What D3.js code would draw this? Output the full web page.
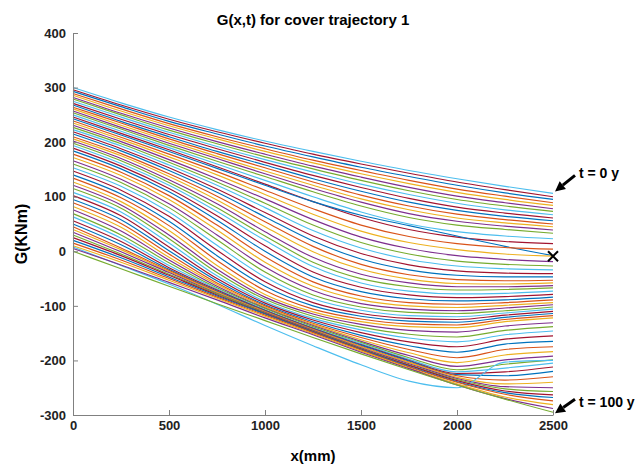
<!DOCTYPE html>
<html lang="en">
<head>
<meta charset="UTF-8">
<title>G(x,t) for cover trajectory 1</title>
<script src="https://d3js.org/d3.v7.min.js"></script>
<style>
  body { margin: 0; background: #fff; }
  svg { display: block; font-family: "Liberation Sans", Arial, sans-serif; }
</style>
</head>
<body>
<svg width="641" height="469"></svg>
<script>
// sample positions along the cover (mm)
const xs = [0, 250, 500, 750, 1000, 1250, 1500, 1750, 2000, 2250, 2500];
const xTicks = [0, 500, 1000, 1500, 2000, 2500];
const yTicks = [-300, -200, -100, 0, 100, 200, 300, 400];

// upper curves (t small), concave decline
const upperCurves = [
  [300,272,246,223,202,183,165,148,133,119,106],
  [296,268,242,219,198,178,160,143,127,113,100],
  [293,265,238,215,193,173,154,137,121,107,95],
  [289,261,234,210,188,167,148,130,114,101,89],
  [286,257,230,206,183,162,142,124,108,95,84],
  [282,253,226,201,178,156,136,117,101,89,78],
  [279,250,222,197,173,151,130,111,95,83,73],
  [275,246,218,192,168,145,123,104,88,76,67],
  [271,242,214,188,163,139,117,97,81,70,61],
  [268,238,210,183,158,133,110,90,75,64,56],
  [264,235,206,179,153,127,103,83,68,58,50],
  [261,231,202,174,147,121,96,76,61,52,45],
  [257,227,198,170,142,115,90,69,55,46,39],
  [254,224,194,165,137,109,83,62,48,40,33]
];

// curves dropping in the middle and flattening out
const middleCurves = [
  [250,220,190,160,130,100,72,50,36,28,23],
  [246,216,186,155,123,91,62,40,26,18,14],
  [243,213,183,152,121,91,66,47,28,9,-8],
  [239,209,178,146,112,78,48,27,14,7,4],
  [235,205,173,140,104,68,37,16,3,-5,-9],
  [231,201,168,133,96,58,26,5,-8,-15,-19],
  [227,197,163,127,88,48,16,-5,-18,-24,-27],
  [223,193,158,121,80,38,6,-15,-27,-32,-34],
  [219,188,153,114,71,28,-4,-25,-36,-40,-41],
  [215,184,148,108,63,19,-14,-34,-44,-47,-47],
  [210,179,142,101,54,9,-24,-43,-52,-54,-53],
  [206,175,137,94,45,-1,-33,-51,-59,-60,-58],
  [202,170,131,87,36,-11,-42,-58,-65,-65,-63],
  [198,166,126,80,28,-20,-50,-65,-71,-70,-67]
];

// deeper S-curves with a trough and a rise at the end
const deepCurves = [
  [194,161,121,73,20,-28,-58,-73,-78,-77,-73],
  [189,156,115,65,10,-38,-66,-80,-85,-83,-79],
  [184,151,109,57,0,-47,-74,-87,-91,-89,-84],
  [178,145,102,48,-10,-56,-82,-94,-97,-94,-89],
  [172,139,95,39,-20,-64,-89,-100,-103,-99,-94],
  [166,132,87,30,-29,-72,-96,-106,-109,-104,-98],
  [160,126,80,21,-38,-80,-102,-112,-114,-109,-102],
  [153,119,72,11,-47,-87,-108,-118,-120,-113,-106],
  [147,112,64,2,-56,-94,-114,-123,-125,-117,-110],
  [140,105,55,-8,-64,-100,-119,-128,-130,-121,-114],
  [134,98,47,-17,-72,-106,-124,-133,-135,-125,-118],
  [127,91,38,-26,-79,-111,-129,-138,-140,-129,-122]
];

// curves joining the lower band, lifting out near the end
const joiningCurves = [
  [121,85,30,-33,-84,-115,-134,-145,-148,-137,-131],
  [115,79,23,-39,-88,-119,-139,-152,-157,-145,-138],
  [108,72,15,-45,-92,-123,-144,-159,-166,-153,-146],
  [102,65,8,-50,-95,-126,-149,-166,-175,-161,-155],
  [95,58,1,-54,-98,-129,-154,-173,-185,-170,-165],
  [89,51,-5,-58,-100,-132,-158,-180,-195,-180,-175],
  [82,44,-11,-61,-102,-134,-162,-186,-204,-190,-184],
  [76,37,-16,-64,-104,-136,-165,-191,-211,-199,-192],
  [69,30,-21,-67,-105,-138,-167,-195,-217,-207,-199],
  [63,24,-26,-69,-107,-140,-169,-198,-221,-214,-205],
  [56,18,-30,-71,-108,-141,-171,-200,-224,-221,-212],
  [50,12,-33,-73,-109,-142,-172,-201,-226,-228,-220]
];

// lower band (t close to 100 y)
const bandCurves = [
  [45,6,-35,-74,-110,-143,-174,-203,-228,-236,-230],
  [40,3,-37,-75,-111,-144,-175,-204,-231,-243,-240],
  [35,-1,-39,-77,-112,-145,-177,-206,-233,-248,-250],
  [30,-5,-42,-78,-113,-146,-178,-208,-235,-252,-257],
  [8,-26,-60,-97,-136,-173,-208,-238,-250,-203,-200],
  [25,-8,-44,-80,-114,-147,-179,-209,-237,-256,-263],
  [20,-12,-47,-82,-115,-148,-180,-211,-239,-259,-268],
  [15,-16,-50,-84,-117,-149,-181,-212,-240,-262,-274],
  [10,-20,-53,-86,-119,-151,-183,-214,-243,-267,-281],
  [5,-25,-57,-89,-122,-153,-185,-215,-245,-270,-288],
  [0,-32,-64,-96,-127,-158,-188,-217,-245,-271,-295]
];

const matlabColors = ["#0072BD", "#D95319", "#EDB120", "#7E2F8E", "#77AC30", "#4DBEEE", "#A2142F"];

const svg = d3.select("svg");
const x = d3.scaleLinear().domain([0, 2500]).range([73, 553]);
const y = d3.scaleLinear().domain([-300, 400]).range([415, 33]);

const curves = [].concat(upperCurves, middleCurves, deepCurves, joiningCurves, bandCurves);

const line = d3.line()
  .x((d, i) => x(xs[i]))
  .y(d => y(d))
  .curve(d3.curveMonotoneX);

svg.append("g")
  .selectAll("path")
  .data(curves)
  .join("path")
  .attr("d", line)
  .attr("fill", "none")
  .attr("stroke", (d, i) => matlabColors[(i + 5) % 7])
  .attr("stroke-width", 1.15);

// axes, ticks pointing inward like matlab
const yAxis = d3.axisLeft(y).tickValues(yTicks).tickFormat(d => d)
  .tickSizeInner(-5).tickSizeOuter(0).tickPadding(7);
const xAxis = d3.axisBottom(x).tickValues(xTicks).tickFormat(d => d)
  .tickSizeInner(-5).tickSizeOuter(0).tickPadding(6);

const gy = svg.append("g").attr("transform", `translate(${x(0)},0)`).call(yAxis);
const gx = svg.append("g").attr("transform", `translate(0,${y(-300)})`).call(xAxis);

[gx, gy].forEach(g => {
  g.selectAll("path, line").attr("stroke", "#808080");
  g.selectAll("text")
    .attr("fill", "#222")
    .style("font-size", "13px")
    .style("font-weight", "bold")
    .style("font-family", "'Liberation Sans', Arial, sans-serif");
});

// title and labels
svg.append("text")
  .attr("x", 313).attr("y", 25)
  .attr("text-anchor", "middle")
  .style("font-size", "15px").style("font-weight", "bold")
  .text("G(x,t) for cover trajectory 1");

svg.append("text")
  .attr("x", 313).attr("y", 461)
  .attr("text-anchor", "middle")
  .style("font-size", "15px").style("font-weight", "bold")
  .text("x(mm)");

svg.append("text")
  .attr("transform", "translate(27,234) rotate(-90)")
  .attr("text-anchor", "middle")
  .style("font-size", "16px").style("font-weight", "bold")
  .text("G(KNm)");

// arrows pointing at the t = 0 and t = 100 curves
function arrow(x1, y1, x2, y2) {
  const a = Math.atan2(y2 - y1, x2 - x1);
  const L = 10, W = 5;
  const bx = x2 - L * Math.cos(a), by = y2 - L * Math.sin(a);
  svg.append("line")
    .attr("x1", x1).attr("y1", y1).attr("x2", bx).attr("y2", by)
    .attr("stroke", "#000").attr("stroke-width", 3);
  svg.append("path")
    .attr("d", `M${x2},${y2}L${bx + W * Math.sin(a)},${by - W * Math.cos(a)}L${bx - W * Math.sin(a)},${by + W * Math.cos(a)}Z`)
    .attr("fill", "#000");
}

const endX = x(2500);
arrow(endX + 22, y(106) - 18, endX + 2, y(106) - 2);
svg.append("text")
  .attr("x", endX + 26).attr("y", y(106) - 15)
  .style("font-size", "14px").style("font-weight", "bold")
  .text("t = 0 y");

arrow(endX + 22, y(-295) - 13, endX + 2, y(-295) + 1);
svg.append("text")
  .attr("x", endX + 26).attr("y", y(-295) - 5)
  .style("font-size", "14px").style("font-weight", "bold")
  .text("t = 100 y");

// cross at the end of the marked curve
const cx = endX, cy = y(-9), r = 5;
svg.append("path")
  .attr("d", `M${cx - r},${cy - r}L${cx + r},${cy + r}M${cx - r},${cy + r}L${cx + r},${cy - r}`)
  .attr("stroke", "#000").attr("stroke-width", 2);
</script>
</body>
</html>
